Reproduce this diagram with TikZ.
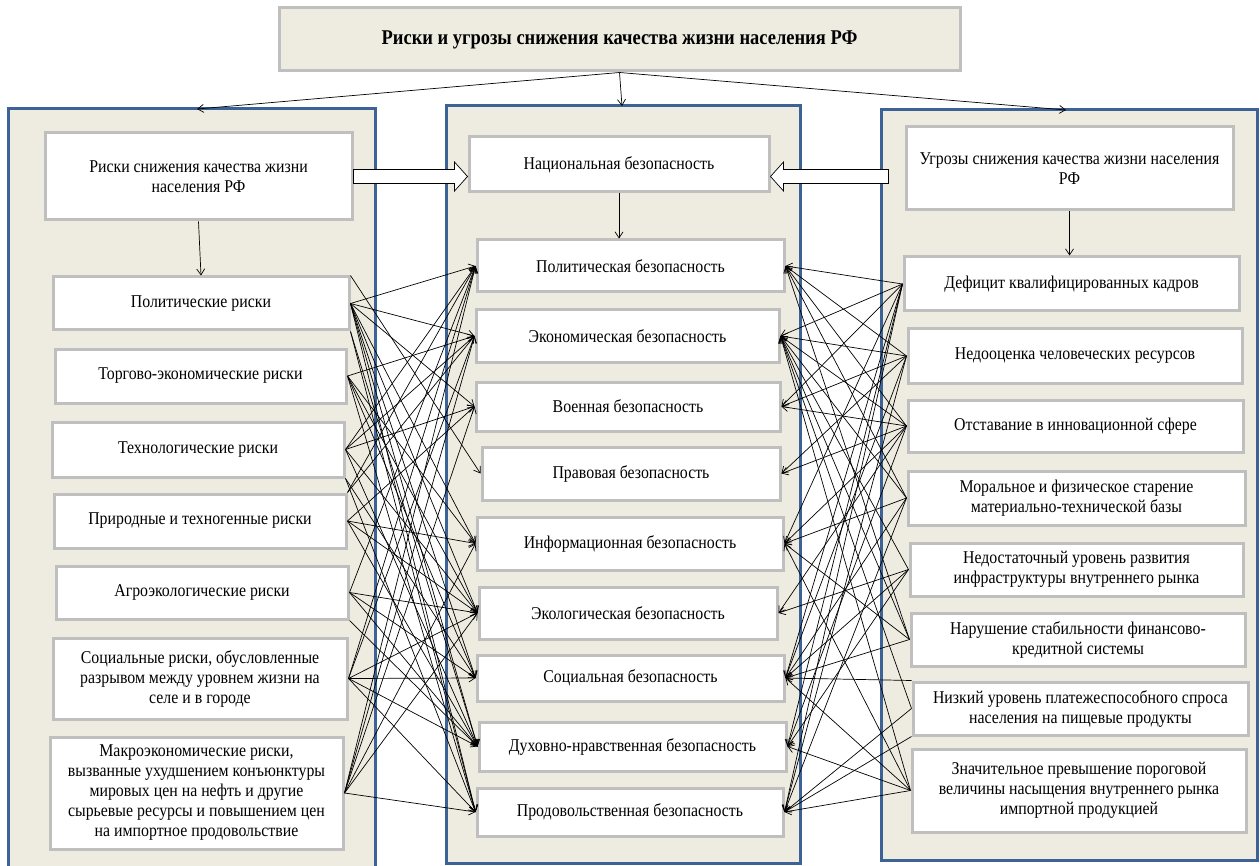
\documentclass[tikz,border=0pt]{standalone}
\usepackage{fontspec}
\setmainfont{Liberation Serif}[FakeStretch=0.88]
\usetikzlibrary{arrows.meta,calc}
\definecolor{colbg}{HTML}{EEECE1}
\definecolor{colblue}{HTML}{3D6396}
\definecolor{boxgray}{HTML}{BFBFBF}
\newcommand{\fsz}{\fontsize{18}{20}\selectfont}
\tikzset{
  colbox/.style={draw=colblue, line width=3pt, fill=colbg, inner sep=0pt},
  wbox/.style={draw=boxgray, line width=3pt, fill=white, align=center, inner sep=1pt, font=\fsz},
  lnk/.style={-{Straight Barb[length=6pt,width=8pt]}, line width=0.7pt},
  barrow/.style={draw=black, fill=white, line width=0.7pt},
}
\begin{document}
\begin{tikzpicture}[x=1pt,y=-1pt]
\useasboundingbox (0,0) rectangle (1260,866);
% columns
\node[colbox, minimum width=367, minimum height=764] (colL) at (191.5,491) {};
\node[colbox, minimum width=354, minimum height=757] (colM) at (623,484.5) {};
\node[colbox, minimum width=376, minimum height=750] (colR) at (1069,485) {};
% title
\node[wbox, fill=colbg, minimum width=681, minimum height=63, font=\fontsize{21}{24}\selectfont\bfseries] (title) at (619.5,39.5) {Риски и угрозы снижения качества жизни населения РФ};
% left boxes
\node[wbox, minimum width=307, minimum height=87] (lr) at (198.5,176.5) {Риски снижения качества жизни\\населения РФ};
\node[wbox, minimum width=296, minimum height=53] (l1) at (201,303.5) {Политические риски};
\node[wbox, minimum width=291, minimum height=54] (l2) at (200.5,376) {Торгово-экономические риски};
\node[wbox, minimum width=292, minimum height=55] (l3) at (198,449.5) {Технологические риски};
\node[wbox, minimum width=292, minimum height=54] (l4) at (200,521) {Природные и техногенные риски};
\node[wbox, minimum width=292, minimum height=53] (l5) at (202,592.5) {Агроэкологические риски};
\node[wbox, minimum width=294, minimum height=81] (l6) at (200,678.5) {Социальные риски, обусловленные\\разрывом между уровнем жизни на\\селе и в городе};
\node[wbox, minimum width=293, minimum height=112] (l7) at (196.5,793) {Макроэкономические риски,\\вызванные ухудшением конъюнктуры\\мировых цен на нефть и другие\\сырьевые ресурсы и повышением цен\\на импортное продовольствие};
% middle boxes
\node[wbox, minimum width=300, minimum height=55] (mn) at (619,164.5) {Национальная безопасность};
\node[wbox, minimum width=307, minimum height=52] (m1) at (630.5,266) {Политическая безопасность};
\node[wbox, minimum width=303, minimum height=52] (m2) at (627.5,336) {Экономическая безопасность};
\node[wbox, minimum width=304, minimum height=49] (m3) at (628,406.5) {Военная безопасность};
\node[wbox, minimum width=298, minimum height=53] (m4) at (631,473.5) {Правовая безопасность};
\node[wbox, minimum width=306, minimum height=53] (m5) at (630,543.5) {Информационная безопасность};
\node[wbox, minimum width=298, minimum height=52] (m6) at (628,613) {Экологическая безопасность};
\node[wbox, minimum width=307, minimum height=46] (m7) at (630.5,678) {Социальная безопасность};
\node[wbox, minimum width=307, minimum height=49] (m8) at (632.5,746.5) {Духовно-нравственная безопасность};
\node[wbox, minimum width=306, minimum height=48] (m9) at (630,812) {Продовольственная безопасность};
% right boxes
\node[wbox, minimum width=327, minimum height=83] (rt) at (1069.5,168.5) {Угрозы снижения качества жизни населения\\РФ};
\node[wbox, minimum width=335, minimum height=54] (r1) at (1071.5,284) {Дефицит квалифицированных кадров};
\node[wbox, minimum width=334, minimum height=54] (r2) at (1075,356) {Недооценка человеческих ресурсов};
\node[wbox, minimum width=335, minimum height=52] (r3) at (1075.5,426) {Отставание в инновационной сфере};
\node[wbox, minimum width=337, minimum height=54] (r4) at (1076.5,498) {Моральное и физическое старение\\материально-технической базы};
\node[wbox, minimum width=333, minimum height=53] (r5) at (1076.5,569.5) {Недостаточный уровень развития\\инфраструктуры внутреннего рынка};
\node[wbox, minimum width=334, minimum height=53] (r6) at (1078,639.5) {Нарушение стабильности финансово-\\кредитной системы};
\node[wbox, minimum width=335, minimum height=53] (r7) at (1080.5,708.5) {Низкий уровень платежеспособного спроса\\населения на пищевые продукты};
\node[wbox, minimum width=334, minimum height=83] (r8) at (1079,790.5) {Значительное превышение пороговой\\величины насыщения внутреннего рынка\\импортной продукцией};
% arrows from title
\coordinate (tL) at (197,109);
\coordinate (tM) at (622,106);
\coordinate (tR) at (1066,110);
\draw[lnk] (title.south) -- (tL);
\draw[lnk] (title.south) -- (tM);
\draw[lnk] (title.south) -- (tR);
% vertical arrows
\draw[lnk] (lr.south) -- (l1.north);
\draw[lnk] (mn.south) -- (mn.south |- m1.north);
\draw[lnk] (rt.south) -- (rt.south |- r1.north);
% block arrows
\coordinate (a0) at (lr.east);
\coordinate (a1) at (mn.west |- lr.east);
\draw[barrow] ($(a0)+(0,-7)$) -- ($(a1)+(-13,-7)$) -- ($(a1)+(-13,-14.5)$) -- (a1) -- ($(a1)+(-13,14.5)$) -- ($(a1)+(-13,7)$) -- ($(a0)+(0,7)$) -- cycle;
\coordinate (b0) at ($(rt.west |- lr.east)+(-16,0)$);
\coordinate (b1) at (mn.east |- lr.east);
\draw[barrow] ($(b0)+(0,-7)$) -- ($(b1)+(13,-7)$) -- ($(b1)+(13,-14.5)$) -- (b1) -- ($(b1)+(13,14.5)$) -- ($(b1)+(13,7)$) -- ($(b0)+(0,7)$) -- cycle;
% left links
\foreach \s/\t in {l1.east/m1, l1.east/m2, l1.east/m3, l1.east/m5, l1.east/m6, l1.east/m7, l1.east/m8, l1.east/m9,
  l1.north east/m4, l1.south east/m8, l1.south east/m9,
  l2.east/m2, l2.east/m5, l2.east/m6, l2.east/m7, l2.east/m9,
  l3.east/m1, l3.east/m2, l3.east/m3, l3.east/m6, l3.east/m8,
  l3.south east/m7, l3.south east/m9,
  l4.north east/m1, l4.north east/m2,
  l4.east/m3, l4.east/m5, l4.east/m6, l4.east/m8,
  l5.east/m1, l5.east/m6, l5.east/m7, l5.east/m8,
  l5.south east/m8,
  l6.east/m1, l6.east/m2, l6.east/m6, l6.east/m7, l6.east/m8, l6.east/m9,
  l7.east/m1, l7.east/m2, l7.east/m3, l7.east/m5, l7.east/m6, l7.east/m9}
  \draw[lnk] (\s) -- (\t.west);
% right links
\foreach \s/\t in {r1.west/m1, r1.west/m2, r1.west/m3, r1.west/m5, r1.west/m7, r1.west/m8, r1.west/m9,
  r2.west/m1, r2.west/m2, r2.west/m3, r2.west/m4, r2.west/m7, r2.west/m9,
  r3.west/m1, r3.west/m2, r3.west/m3, r3.west/m4, r3.west/m5, r3.west/m6, r3.west/m8,
  r4.west/m1, r4.west/m2, r4.west/m5, r4.west/m7, r4.west/m9,
  r5.west/m2, r5.west/m6, r5.west/m7, r5.west/m8,
  r6.west/m1, r6.west/m2, r6.west/m5, r6.west/m7,
  r7.north west/m7, r7.west/m2, r7.west/m9, r7.south west/m9,
  r8.west/m2, r8.west/m5, r8.west/m7, r8.west/m8, r8.west/m9}
  \draw[lnk] (\s) -- (\t.east);
\end{tikzpicture}
\end{document}
